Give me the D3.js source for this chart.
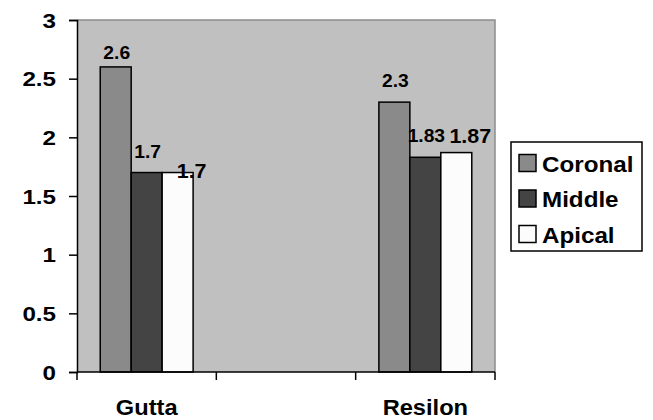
<!DOCTYPE html>
<html>
<head>
<meta charset="utf-8">
<script src="https://cdn.jsdelivr.net/npm/d3@7"></script>
<style>
  body { margin: 0; background: #fff; }
  svg text { font-family: "Liberation Sans", Arial, sans-serif; font-weight: bold; fill: #000; }
</style>
</head>
<body>
<svg id="chart" width="653" height="420"></svg>
<script>
// categories (middle slot is empty in the original sheet)
const categories = ['Gutta', '', 'Resilon'];
const seriesNames = ['Coronal', 'Middle', 'Apical'];
const coronal = [2.6, null, 2.3];
const middle = [1.7, null, 1.83];
const apical = [1.7, null, 1.87];
const labelText = {
  Coronal: ['2.6', '', '2.3'],
  Middle: ['1.7', '', '1.83'],
  Apical: ['1.7', '', '1.87'],
};
const yTicks = [0, 0.5, 1, 1.5, 2, 2.5, 3];

const seriesValues = { Coronal: coronal, Middle: middle, Apical: apical };
const colors = { Coronal: '#8a8a8a', Middle: '#444444', Apical: '#fcfcfc' };

const svg = d3.select('#chart');
const plot = { left: 77, right: 495, top: 20, bottom: 372 };
// the source text is a little wider than Arial, so stretch it sideways
const stretch = 1.1;

const x = d3.scaleBand().domain(d3.range(categories.length))
  .range([plot.left, plot.right]).padding(0);
const xSub = d3.scaleBand().domain(seriesNames)
  .range([0, x.bandwidth()]).paddingInner(0).paddingOuter(0.75);
const y = d3.scaleLinear().domain([0, 3]).range([plot.bottom, plot.top]);

function stretchedText(sel, px, py, k = stretch) {
  return sel.attr('transform', (d, i) => `translate(${px(d, i)},${py(d, i)}) scale(${k},1)`);
}

// plot area
svg.append('rect')
  .attr('x', plot.left).attr('y', plot.top)
  .attr('width', plot.right - plot.left).attr('height', plot.bottom - plot.top)
  .attr('fill', '#c0c0c0');
svg.append('path')
  .attr('d', `M${plot.left},${plot.top}H${plot.right}V${plot.bottom}`)
  .attr('fill', 'none').attr('stroke', '#8c8c8c').attr('stroke-width', 1.5);

// bars
const rows = [];
categories.forEach((c, i) => {
  seriesNames.forEach((s) => {
    const v = seriesValues[s][i];
    if (v != null) rows.push({ i, s, v, label: labelText[s][i] });
  });
});

svg.append('g').selectAll('rect').data(rows).join('rect')
  .attr('x', (d) => x(d.i) + xSub(d.s))
  .attr('y', (d) => y(d.v))
  .attr('width', xSub.bandwidth())
  .attr('height', (d) => y(0) - y(d.v))
  .attr('fill', (d) => colors[d.s])
  .attr('stroke', '#000').attr('stroke-width', 1.5);

// data labels, nudged the way they sit in the original
const labelNudge = {
  'Coronal|0': -8, 'Coronal|2': -15,
  'Middle|0': -15, 'Middle|2': -15,
  'Apical|0': 5, 'Apical|2': -10,
};
stretchedText(
  svg.append('g').selectAll('text').data(rows).join('text'),
  (d) => x(d.i) + xSub(d.s) + xSub.bandwidth() / 2 + (d.s === 'Apical' ? 14 : 1),
  (d) => y(d.v) + labelNudge[`${d.s}|${d.i}`],
)
  .attr('text-anchor', 'middle')
  .style('font-size', (d) => (d.s === 'Apical' ? '19.5px' : '17.5px'))
  .text((d) => d.label);

// y axis
const yAxis = svg.append('g').attr('transform', `translate(${plot.left},0)`)
  .call(d3.axisLeft(y).tickValues(yTicks).tickSize(8).tickFormat(d3.format('')));
yAxis.select('.domain').attr('stroke', '#000').attr('stroke-width', 1.5);
yAxis.selectAll('.tick line').attr('stroke', '#000').attr('stroke-width', 1.5);
yAxis.selectAll('.tick text').remove();
stretchedText(
  svg.append('g').selectAll('text').data(yTicks).join('text'),
  () => 56,
  (d) => y(d) + 7.5,
  1.18,
)
  .attr('text-anchor', 'end')
  .style('font-size', '20.5px')
  .text((d) => d3.format('')(d));

// x axis: ticks sit between categories
const xTickPos = categories.map((c, i) => x(i)).concat([plot.right]);
const xAxis = svg.append('g');
xAxis.append('line')
  .attr('x1', plot.left).attr('x2', plot.right)
  .attr('y1', plot.bottom).attr('y2', plot.bottom)
  .attr('stroke', '#000').attr('stroke-width', 1.5);
xAxis.selectAll('line.tk').data(xTickPos).join('line').attr('class', 'tk')
  .attr('x1', (d) => d).attr('x2', (d) => d)
  .attr('y1', plot.bottom).attr('y2', plot.bottom + 8)
  .attr('stroke', '#000').attr('stroke-width', 1.5);
stretchedText(
  xAxis.selectAll('text').data(categories).join('text'),
  (d, i) => x(i) + x.bandwidth() / 2,
  () => 415,
)
  .attr('text-anchor', 'middle')
  .style('font-size', '21.5px')
  .text((d) => d);

// legend
const legend = svg.append('g').attr('transform', 'translate(511,142)');
legend.append('rect').attr('width', 131).attr('height', 109)
  .attr('fill', '#fff').attr('stroke', '#000').attr('stroke-width', 1.5);
const item = legend.selectAll('g').data(seriesNames).join('g')
  .attr('transform', (d, i) => `translate(8,${21 + i * 35.5})`);
item.append('rect').attr('x', 0).attr('y', -8.5).attr('width', 17).attr('height', 17)
  .attr('fill', (d) => colors[d]).attr('stroke', '#000').attr('stroke-width', 1.5);
item.append('text').attr('transform', `translate(23,8.5) scale(${stretch},1)`)
  .style('font-size', '22px').text((d) => d);
</script>
</body>
</html>
